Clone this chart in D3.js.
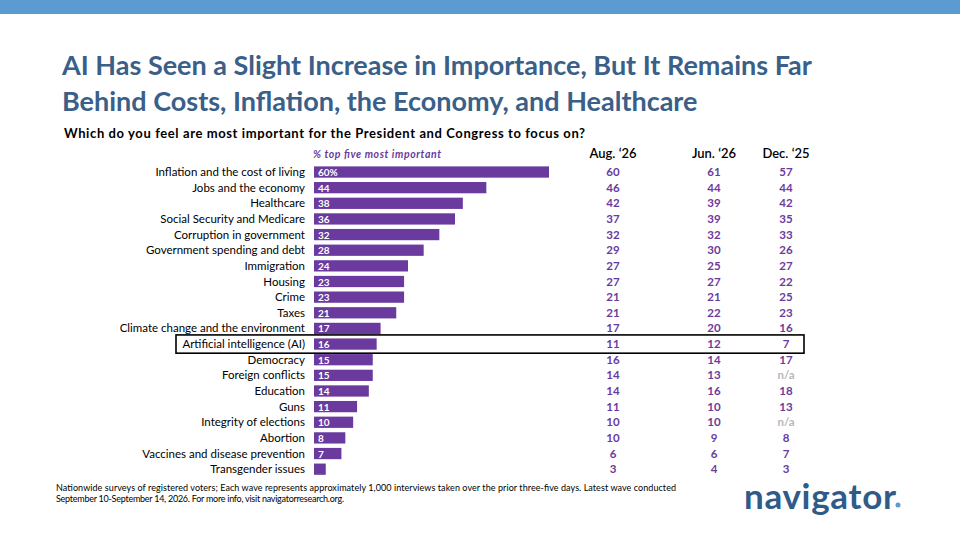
<!DOCTYPE html>
<html><head><meta charset="utf-8">
<script src="https://cdn.jsdelivr.net/npm/d3@7"></script>
<style>body{margin:0;background:#fff;font-family:Lato,"Open Sans",sans-serif}</style>
</head><body><svg id="c" width="960" height="540"></svg>
<script>
const categories=["Inflation and the cost of living","Jobs and the economy","Healthcare","Social Security and Medicare","Corruption in government","Government spending and debt","Immigration","Housing","Crime","Taxes","Climate change and the environment","Artificial intelligence (AI)","Democracy","Foreign conflicts","Education","Guns","Integrity of elections","Abortion","Vaccines and disease prevention","Transgender issues"];
const barValues=[60,44,38,36,32,28,24,23,23,21,17,16,15,15,14,11,10,8,7,3];
const aug26=[60,46,42,37,32,29,27,27,21,21,17,11,16,14,14,11,10,10,6,3];
const jun26=[61,44,39,39,32,30,25,27,21,22,20,12,14,13,16,10,10,9,6,4];
const dec25=[57,44,42,35,33,26,27,22,25,23,16,7,17,null,18,13,null,8,7,3];
const columnLabels=["Aug. ‘26","Jun. ‘26","Dec. ‘25"];
const svg=d3.select("#c");
const purple="#6a3a9e", titleC="#3a5f88";
svg.append("rect").attr("x",0).attr("y",0).attr("width",960).attr("height",14).attr("fill","#5b9bd1");
svg.append("text").attr("x",62).attr("y",75).attr("font-size",27).attr("font-weight",700).attr("fill",titleC).text("AI Has Seen a Slight Increase in Importance, But It Remains Far");
svg.append("text").attr("x",62).attr("y",111).attr("font-size",27).attr("font-weight",700).attr("fill",titleC).text("Behind Costs, Inflation, the Economy, and Healthcare");
svg.append("text").attr("x",64).attr("y",138).attr("font-size",13).attr("font-weight",700).attr("fill","#000").attr("textLength",521).text("Which do you feel are most important for the President and Congress to focus on?");
svg.append("text").attr("x",313).attr("y",158).attr("font-size",10.5).attr("font-style","italic").attr("font-weight",700).attr("fill",purple).attr("textLength",128).text("% top five most important");
const x=d3.scaleLinear().domain([0,60]).range([314,549]);
const y=d3.scaleBand().domain(categories).range([164.2,477]).paddingInner(0.28).paddingOuter(0.14);
const g=svg.append("g");
categories.forEach((c,i)=>{
  const yc=y(c)+y.bandwidth()/2;
  g.append("rect").attr("x",x(0)).attr("y",y(c)).attr("width",x(barValues[i])-x(0)).attr("height",y.bandwidth()).attr("fill",purple);
  if(barValues[i]>=5) g.append("text").attr("x",x(0)+4).attr("y",yc+4).attr("font-size",10).attr("font-weight",700).attr("fill","#fff").text(i===0?barValues[i]+"%":barValues[i]);
  g.append("text").attr("x",305).attr("y",yc+4).attr("text-anchor","end").attr("font-size",11.5).attr("fill","#000").text(c);
  [aug26,jun26,dec25].forEach((arr,j)=>{
    const v=arr[i];
    g.append("text").attr("x",[613,714,786][j]).attr("y",yc+4).attr("text-anchor","middle").attr("font-size",11.5).attr("font-weight",700).attr("fill",v==null?"#b8b8b8":purple).text(v==null?"n/a":v);
  });
});
columnLabels.forEach((l,j)=>svg.append("text").attr("x",[613,714,786][j]).attr("y",158).attr("text-anchor","middle").attr("font-size",13).attr("font-weight",600).attr("fill","#000").text(l));
const ai=categories.indexOf("Artificial intelligence (AI)");
svg.append("rect").attr("x",176).attr("y",y(categories[ai])-3.5).attr("width",628).attr("height",y.bandwidth()+7).attr("fill","none").attr("stroke","#000").attr("stroke-width",1.6);
const foot=["Nationwide surveys of registered voters; Each wave represents approximately 1,000 interviews taken over the prior three-five days. Latest wave conducted","September 10-September 14, 2026. For more info, visit navigatorresearch.org."];
const fl=[620,288];
foot.forEach((t,i)=>svg.append("text").attr("x",56).attr("y",491+i*11).attr("font-size",9).attr("fill","#000").attr("textLength",fl[i]).text(t));
svg.append("text").attr("x",744).attr("y",509).attr("font-size",35).attr("font-weight",700).attr("fill","#2f5b88").attr("textLength",152).text("navigator");
svg.append("circle").attr("cx",898).attr("cy",505).attr("r",2.5).attr("fill","#5b9bd1");
</script></body></html>
